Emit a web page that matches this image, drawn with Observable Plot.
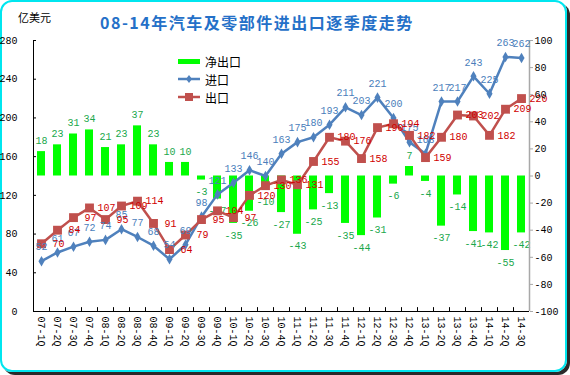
<!DOCTYPE html>
<html><head><meta charset="utf-8">
<script src="https://cdn.jsdelivr.net/npm/d3@7"></script>
<script src="https://cdn.jsdelivr.net/npm/@observablehq/plot@0.6"></script>
<style>
body{margin:0;background:#fff;}
#wrap{position:relative;width:570px;height:375px;overflow:hidden;background:#fff;}
#frame{position:absolute;left:0;top:0;width:563px;height:368px;border:2px solid #00e6ef;border-radius:12px;box-shadow:3px 3px 0 #2a2a2a;}
#chart{position:absolute;left:0;top:0;}
#title{position:absolute;left:100px;top:10px;font:bold 16px "Noto Sans CJK SC",sans-serif;letter-spacing:1.5px;color:#2470c8;white-space:nowrap;}
#unit{position:absolute;left:18px;top:9px;font:11px "Noto Sans CJK SC",sans-serif;color:#000;}
#legend{position:absolute;left:178px;top:52px;font:12px "Noto Sans CJK SC",sans-serif;color:#000;}
.li{height:18px;display:flex;align-items:center;}
.li svg{margin-right:3px;}
</style></head>
<body>
<div id="wrap">
  <div id="frame"></div>
  <div id="chart"></div>
  <div id="unit">亿美元</div>
  <div id="title">08-14年汽车及零部件进出口逐季度走势</div>
  <div id="legend">
    <div class="li"><svg width="24" height="10"><rect x="0" y="3" width="22" height="5" fill="#00ff00"/></svg>净出口</div>
    <div class="li"><svg width="24" height="10"><line x1="0" y1="5" x2="22" y2="5" stroke="#4f81bd" stroke-width="2.5"/><path d="M11 1L14 5L11 9L8 5Z" fill="#4f81bd"/></svg>进口</div>
    <div class="li"><svg width="24" height="10"><line x1="0" y1="5" x2="22" y2="5" stroke="#c0504d" stroke-width="2.5"/><rect x="7" y="1" width="8" height="8" fill="#c0504d"/></svg>出口</div>
  </div>
</div>
<script>
const quarters = ["07-1Q","07-2Q","07-3Q","07-4Q","08-1Q","08-2Q","08-3Q","08-4Q","09-1Q","09-2Q","09-3Q","09-4Q","10-1Q","10-2Q","10-3Q","10-4Q","11-1Q","11-2Q","11-3Q","11-4Q","12-1Q","12-2Q","12-3Q","12-4Q","13-1Q","13-2Q","13-3Q","13-4Q","14-1Q","14-2Q","14-3Q"];
const imports = [52,61,67,72,74,85,77,68,54,69,98,121,133,146,140,163,175,180,193,211,203,221,200,175,163,217,217,243,225,263,262];
const exportsV = [70,84,97,107,95,109,114,91,64,79,95,104,97,120,130,136,131,155,180,176,158,190,194,182,159,180,203,202,182,209,220];
const netExports = [18,23,31,34,21,23,37,23,10,10,-3,-17,-35,-26,-10,-27,-43,-25,-13,-35,-44,-31,-6,7,-4,-37,-14,-41,-42,-55,-42];
const leftTicks = [0,40,80,120,160,200,240,280];
const rightTicks = [-100,-80,-60,-40,-20,0,20,40,60,80,100];

// right axis (-100..100) mapped onto left axis (0..280)
const toLeft = v => (v + 100) * 1.4;
const fromLeft = y => Math.round(y / 1.4 - 100);

const netRows = netExports.map((v, i) => ({q: quarters[i], v}));
const mono = "Liberation Mono, DejaVu Sans Mono, monospace";
const chart = Plot.plot({
  width: 570, height: 375,
  marginTop: 40, marginBottom: 64, marginLeft: 33, marginRight: 41,
  style: {background: "transparent", fontFamily: mono, fontSize: "10px", color: "#000"},
  x: {type: "band", domain: quarters, paddingInner: 0.5, paddingOuter: 0.25},
  y: {domain: [0, 280]},
  marks: [
    Plot.barY(netRows, {x: "q", y1: () => toLeft(0), y2: d => toLeft(d.v), fill: "#00ff00"}),
    Plot.text(netRows.filter(d => d.v >= 0), {x: "q", y: d => toLeft(d.v), text: d => String(d.v), dy: -11, fill: "#1aa84c", fontFamily: mono, fontSize: 10}),
    Plot.text(netRows.filter(d => d.v < 0), {x: "q", y: d => toLeft(d.v), text: d => String(d.v), dy: 12, fill: "#1aa84c", fontFamily: mono, fontSize: 10}),
    Plot.ruleY([0], {stroke: "#000"}),
    Plot.ruleX(quarters.slice(1), {x: d => d, dx: -8, y1: 0, y2: 4, stroke: "#000"}),
    Plot.ruleX([quarters[0]], {x: d => d, dx: -8, y1: 0, y2: 280, stroke: "#000"}),
    Plot.ruleX([quarters[quarters.length - 1]], {x: d => d, dx: 8, y1: 0, y2: 280, stroke: "#a8a8a8", strokeWidth: 1.5}),
    Plot.line(imports, {x: quarters, y: imports, stroke: "#4f81bd", strokeWidth: 2.5}),
    Plot.dot(imports, {x: quarters, y: imports, symbol: "diamond", r: 3.2, fill: "#4f81bd"}),
    Plot.line(exportsV, {x: quarters, y: exportsV, stroke: "#c0504d", strokeWidth: 2.5}),
    Plot.dot(exportsV, {x: quarters, y: exportsV, symbol: "square", r: 5, fill: "#c0504d"}),
    Plot.text(imports, {x: quarters, y: imports, text: imports.map(String), dy: -14, fill: "#4a7ebb", fontFamily: mono, fontSize: 10}),
    Plot.text(exportsV, {x: quarters, y: exportsV, text: exportsV.map(String), dx: 17, fill: "#d00000", fontFamily: mono, fontSize: 10}),
    Plot.axisY(leftTicks, {anchor: "left", tickSize: -3, tickPadding: 19, color: "#000", fontFamily: mono, fontSize: 10, label: null}),
    Plot.axisY(rightTicks.map(toLeft), {anchor: "right", tickFormat: d => String(fromLeft(d)), tickSize: 3, tickPadding: 2, stroke: "#a8a8a8", fill: "#000", fontFamily: mono, fontSize: 10, label: null}),
    Plot.axisX({anchor: "bottom", tickSize: 0, tickPadding: 5, tickRotate: 90, fill: "#000", fontFamily: mono, fontSize: 10, label: null})
  ]
});
document.getElementById("chart").appendChild(chart);
</script>
</body></html>
